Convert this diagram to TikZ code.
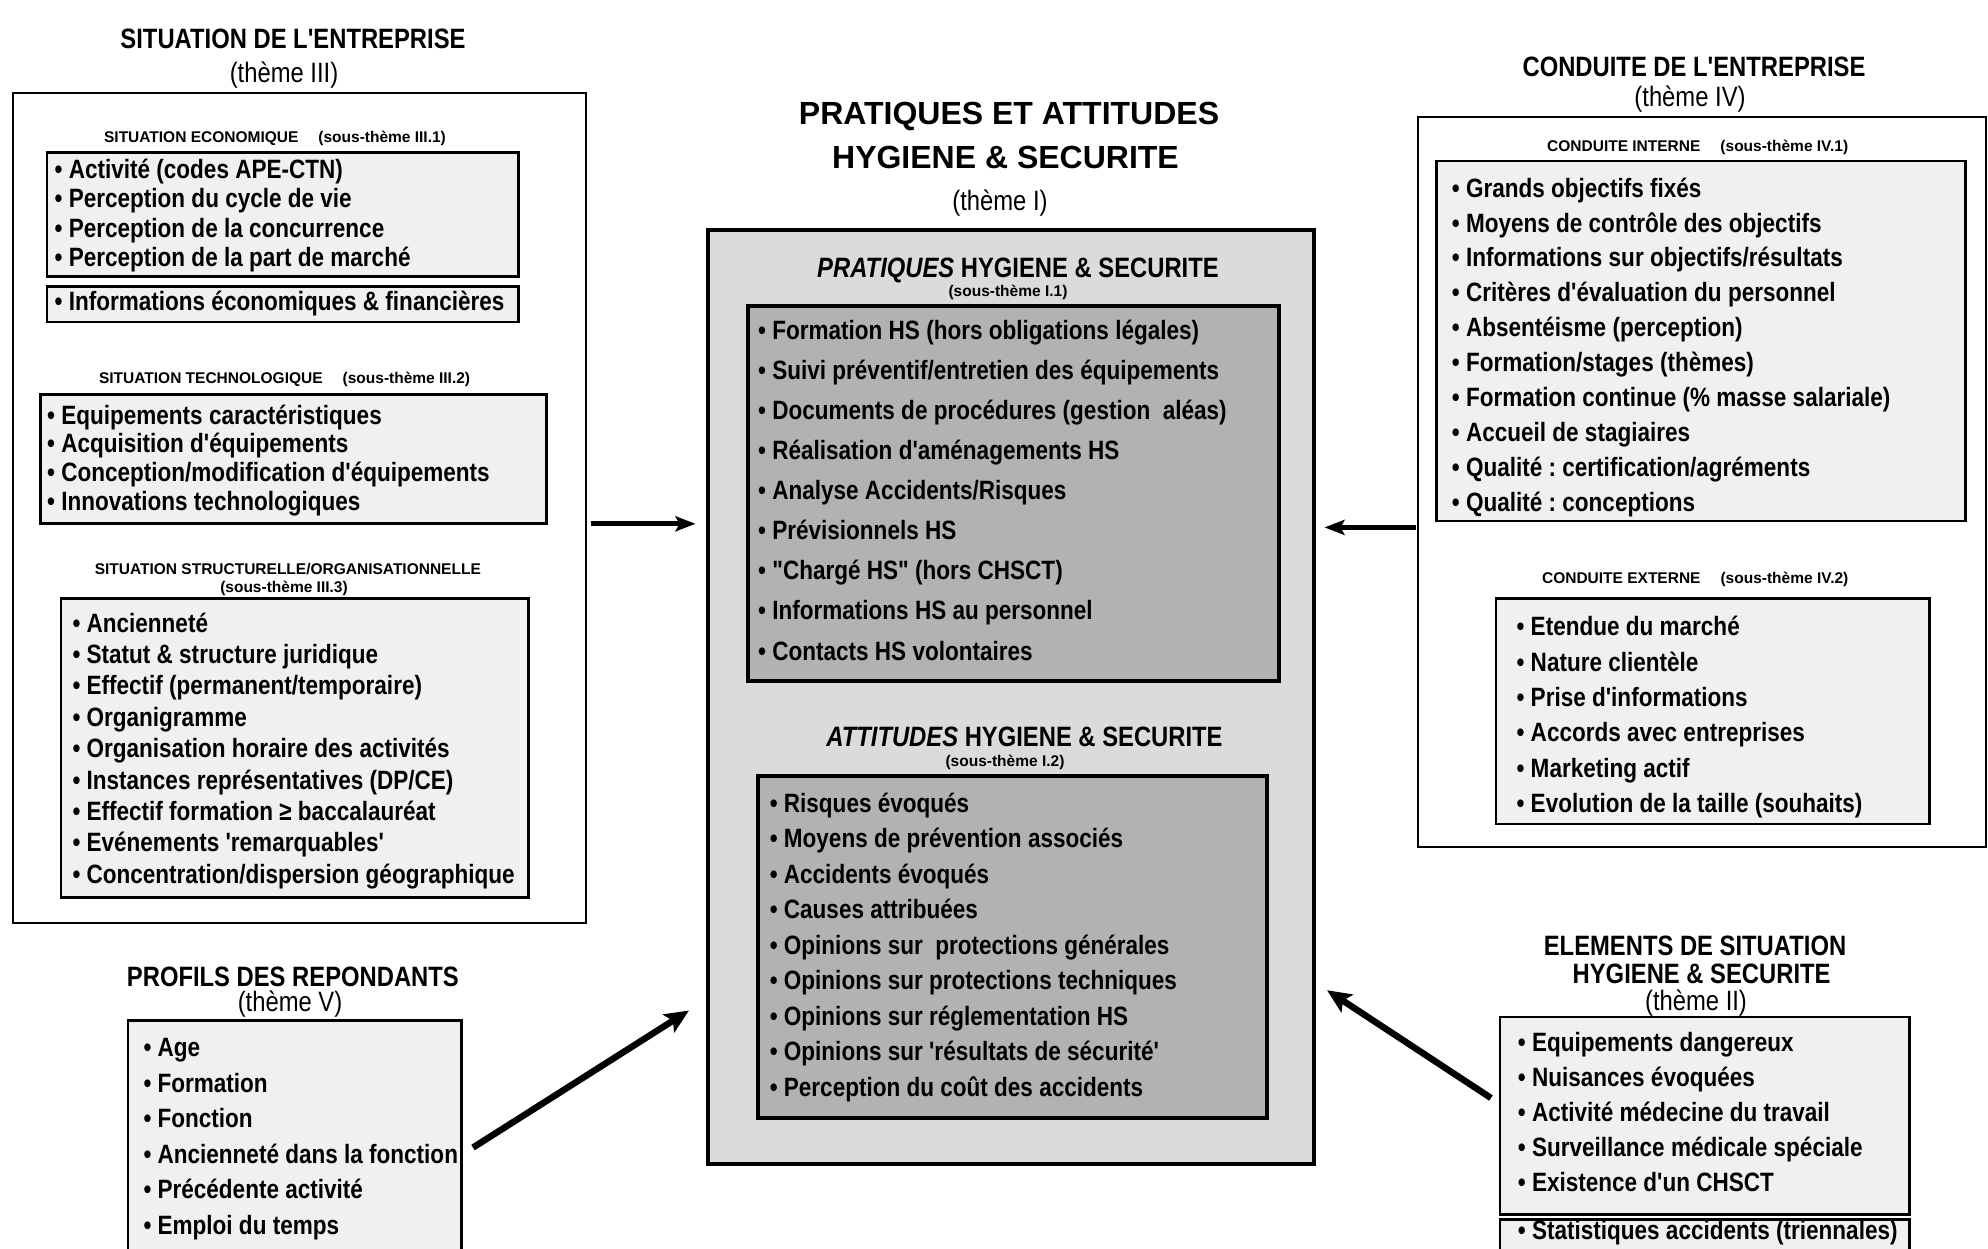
\documentclass[tikz,border=0pt]{standalone}
\usepackage{fontspec}
\setmainfont{Liberation Sans}
\newfontfamily\cf{Liberation Sans}[FakeStretch=0.85]
\usetikzlibrary{arrows.meta}
\frenchspacing
\definecolor{lightfill}{gray}{0.94}
\definecolor{midfill}{gray}{0.86}
\definecolor{darkfill}{gray}{0.70}
\tikzset{
  outerbox/.style={draw, line width=2pt, inner sep=0pt},
  subbox/.style={draw, line width=2.6pt, fill=lightfill, inner sep=0pt},
  cbox/.style={draw, line width=4pt, fill=midfill, inner sep=0pt},
  cinner/.style={draw, line width=4pt, fill=darkfill, inner sep=0pt},
  ttl/.style={font=\cf\bfseries\fontsize{28}{30}\selectfont, anchor=base, inner sep=0pt},
  thm/.style={font=\cf\fontsize{28}{30}\selectfont, anchor=base, inner sep=0pt},
  bigttl/.style={font=\bfseries\fontsize{32}{34}\selectfont, anchor=base, inner sep=0pt},
  subh/.style={font=\bfseries\fontsize{15.5}{17}\selectfont, anchor=base, inner sep=0pt},
  item/.style={font=\cf\bfseries\fontsize{26.5}{28}\selectfont, anchor=base west, inner sep=0pt},
  harr/.style={line width=5pt, -{Stealth[length=20pt,width=15pt,inset=4pt]}},
  darr/.style={line width=6.5pt, -{Stealth[length=24pt,width=21pt,inset=5pt]}}
}
\newcommand\bx[6]{\node[#1, minimum width={#5-#3}, minimum height={#6-#4}] (#2) at ({(#3+#5)/2},{(#4+#6)/2}) {};}
\newcommand\itemlist[5]{%
  \foreach \itm [count=\i] in {#5}{%
    \node[item] (#1-\i) at (#2,{#3+(\i-1)*#4+9.5}) {• \itm};
  }}
\begin{document}
\begin{tikzpicture}[x=1pt,y=-1pt]
\useasboundingbox (0,0) rectangle (1988,1248);
\fill[white] (0,0) rectangle (1988,1248);
\clip (0,0) rectangle (1988,1248);

% ---------- boxes ----------
\bx{outerbox}{sit}{12.7}{92.6}{585.8}{923}
\bx{subbox}{eco1}{46.9}{152.2}{518.6}{276.4}
\bx{subbox}{eco2}{46.9}{286.5}{518.6}{322}
\bx{subbox}{tech}{40.6}{394.3}{546.5}{523.6}
\bx{subbox}{struc}{60.9}{598.4}{528.7}{897.7}
\bx{subbox}{prof}{128}{1020.7}{461.5}{1270}
\bx{cbox}{pra}{707.5}{229.5}{1313.5}{1164}
\bx{cinner}{in1}{748}{305.6}{1279.3}{680.9}
\bx{cinner}{in2}{758.2}{776}{1266.6}{1118.3}
\bx{outerbox}{con}{1417.5}{116.6}{1985.5}{847}
\bx{subbox}{cint}{1436.5}{161}{1965.2}{521.1}
\bx{subbox}{cext}{1496}{598.4}{1929.7}{824.1}
\bx{subbox}{ele}{1500}{1016.9}{1909.5}{1214.7}
\bx{subbox}{ele2}{1500}{1219.7}{1909.5}{1265}

% ---------- titles ----------
\node[ttl] (sitT) at (293,48) {SITUATION DE L'ENTREPRISE};
\node[thm] (sitS) at (284,82) {(thème III)};
\node[subh] (ecoH) at (275,142.5) {SITUATION ECONOMIQUE\hspace{20pt}(sous-thème III.1)};
\node[subh] (techH) at (284.6,383.3) {SITUATION TECHNOLOGIQUE\hspace{20pt}(sous-thème III.2)};
\node[subh] (strH) at (287.8,574.8) {SITUATION STRUCTURELLE/ORGANISATIONNELLE};
\node[subh] (strH2) at (284,592.5) {(sous-thème III.3)};
\node[ttl] (profT) at (292.9,986.3) {PROFILS DES REPONDANTS};
\node[thm] (profS) at (290,1011.7) {(thème V)};

\node[bigttl] (praT1) at (1009,124.3) {PRATIQUES ET ATTITUDES};
\node[bigttl] (praT2) at (1005.5,168.7) {HYGIENE \& SECURITE};
\node[thm] (praS) at (1000,210) {(thème I)};
\node[ttl] (pH1) at (1018,277) {{\itshape PRATIQUES} HYGIENE \& SECURITE};
\node[subh] (pH1s) at (1008,296) {(sous-thème I.1)};
\node[ttl] (pH2) at (1024.5,746) {{\itshape ATTITUDES} HYGIENE \& SECURITE};
\node[subh] (pH2s) at (1005,766) {(sous-thème I.2)};

\node[ttl] (conT) at (1694,76) {CONDUITE DE L'ENTREPRISE};
\node[thm] (conS) at (1690,106) {(thème IV)};
\node[subh] (cintH) at (1697.7,151.3) {CONDUITE INTERNE\hspace{20pt}(sous-thème IV.1)};
\node[subh] (cextH) at (1695.2,583.7) {CONDUITE EXTERNE\hspace{20pt}(sous-thème IV.2)};
\node[ttl] (eleT1) at (1695,955.9) {ELEMENTS DE SITUATION};
\node[ttl] (eleT2) at (1701.6,983.8) {HYGIENE \& SECURITE};
\node[thm] (eleS) at (1696,1010.4) {(thème II)};

% ---------- item lists ----------
\itemlist{ieco}{54.5}{168.6}{29.6}{{Activité (codes APE-CTN)},{Perception du cycle de vie},{Perception de la concurrence},{Perception de la part de marché}}
\itemlist{ieco2}{54.5}{300.5}{29.6}{{Informations économiques \& financières}}
\itemlist{itech}{47}{414.6}{28.7}{{Equipements caractéristiques},{Acquisition d'équipements},{Conception/modification d'équipements},{Innovations technologiques}}
\itemlist{istr}{72.3}{622.5}{31.4}{{Ancienneté},{Statut \& structure juridique},{Effectif (permanent/temporaire)},{Organigramme},{Organisation horaire des activités},{Instances représentatives (DP/CE)},{Effectif formation ≥ baccalauréat},{Evénements 'remarquables'},{Concentration/dispersion géographique}}
\itemlist{iprof}{143.3}{1047.3}{35.5}{{Age},{Formation},{Fonction},{Ancienneté dans la fonction},{Précédente activité},{Emploi du temps}}
\itemlist{iin1}{758}{329.7}{40.1}{{Formation HS (hors obligations légales)},{Suivi préventif/entretien des équipements},{Documents de procédures (gestion \ aléas)},{Réalisation d'aménagements HS},{Analyse Accidents/Risques},{Prévisionnels HS},{"Chargé HS" (hors CHSCT)},{Informations HS au personnel},{Contacts HS volontaires}}
\itemlist{iin2}{769.6}{802.6}{35.5}{{Risques évoqués},{Moyens de prévention associés},{Accidents évoqués},{Causes attribuées},{Opinions sur \ protections générales},{Opinions sur protections techniques},{Opinions sur réglementation HS},{Opinions sur 'résultats de sécurité'},{Perception du coût des accidents}}
\itemlist{icint}{1451.7}{187.6}{34.9}{{Grands objectifs fixés},{Moyens de contrôle des objectifs},{Informations sur objectifs/résultats},{Critères d'évaluation du personnel},{Absentéisme (perception)},{Formation/stages (thèmes)},{Formation continue (\% masse salariale)},{Accueil de stagiaires},{Qualité : certification/agréments},{Qualité : conceptions}}
\itemlist{icext}{1516.4}{626.3}{35.3}{{Etendue du marché},{Nature clientèle},{Prise d'informations},{Accords avec entreprises},{Marketing actif},{Evolution de la taille (souhaits)}}
\itemlist{iele}{1517.7}{1042.2}{34.9}{{Equipements dangereux},{Nuisances évoquées},{Activité médecine du travail},{Surveillance médicale spéciale},{Existence d'un CHSCT}}
\itemlist{iele2}{1517.7}{1229.9}{34.9}{{Statistiques accidents (triennales)}}

% ---------- connectors ----------
\coordinate (a1) at ([yshift=-16pt]sit.east);
\draw[harr, shorten <=4pt, shorten >=10pt] (a1) -- (a1 -| pra.west);
\coordinate (a2) at ([yshift=-45.6pt]con.west);
\draw[harr, shorten <=1pt, shorten >=9pt] (a2) -- (a2 -| pra.east);
\draw[darr] ([xshift=10.2pt,yshift=-2.2pt]prof.east) -- ([xshift=-16.5pt,yshift=-313.75pt]pra.west);
\draw[darr] ([xshift=-7.7pt,yshift=17.8pt]ele.west) -- ([xshift=11.5pt,yshift=-293.45pt]pra.east);
\end{tikzpicture}
\end{document}
